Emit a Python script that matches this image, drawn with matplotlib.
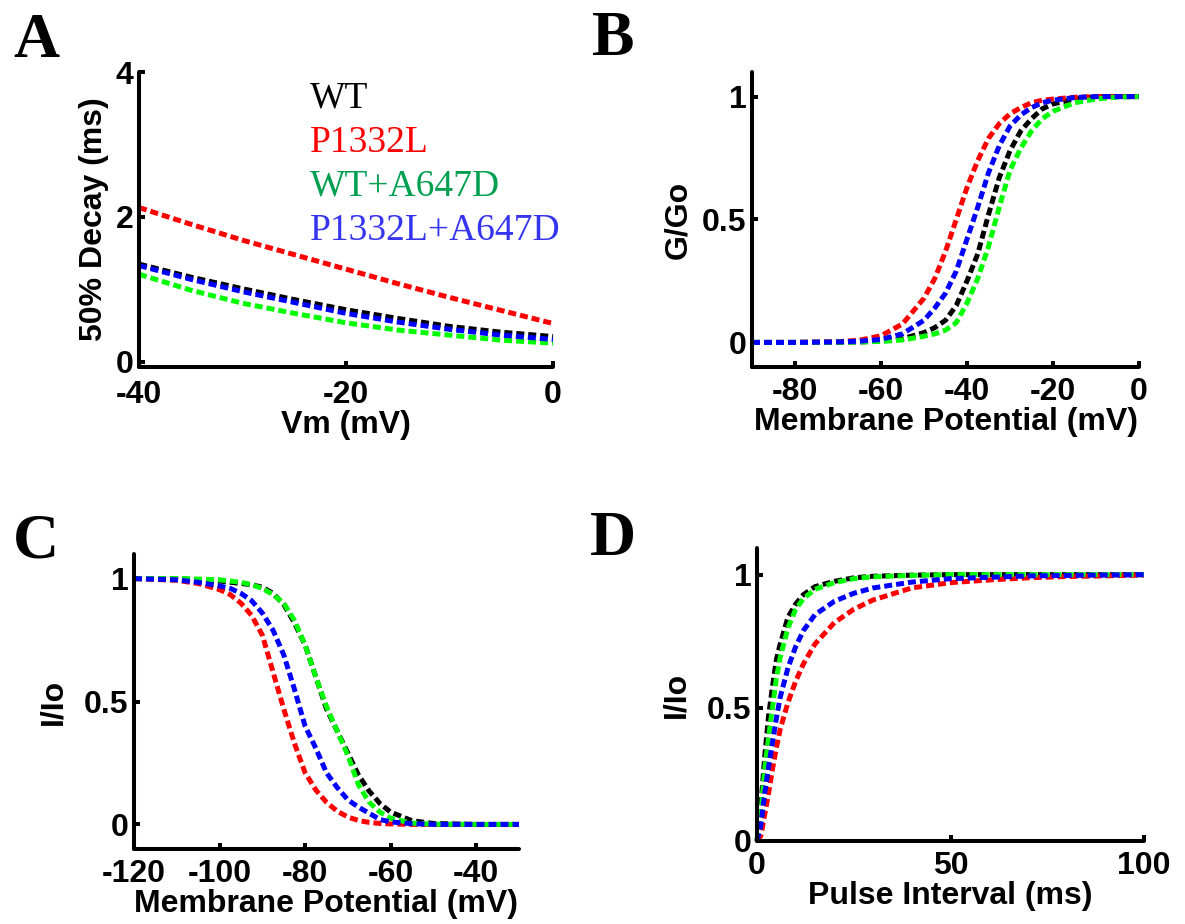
import matplotlib
matplotlib.use("Agg")
import matplotlib.pyplot as plt
from matplotlib.ticker import FixedLocator, FixedFormatter

# ---------------- data ----------------
series_names = ["WT", "P1332L", "WT+A647D", "P1332L+A647D"]
line_colors = ["#000000", "#FF0000", "#00FF00", "#0000FF"]
text_colors = ["#000000", "#FF0000", "#00A050", "#3535F0"]

# Panel A: 50% decay (ms) vs Vm (mV)
a_vm = [-40, -35, -30, -25, -20, -15, -10, -5, 0]
a_wt = [1.35, 1.17, 1.01, 0.86, 0.72, 0.60, 0.49, 0.41, 0.35]
a_p1332l = [2.13, 1.90, 1.68, 1.48, 1.28, 1.08, 0.89, 0.71, 0.53]
a_wt_a647d = [1.21, 0.99, 0.81, 0.67, 0.54, 0.44, 0.37, 0.30, 0.26]
a_p1332l_a647d = [1.33, 1.14, 0.97, 0.82, 0.67, 0.55, 0.45, 0.37, 0.31]

# Panel B: G/Go vs membrane potential (mV)
b_vm = [-90, -80, -70, -65, -60, -55, -50, -47.5, -45, -42.5, -40, -37.5, -35,
        -32.5, -30, -27.5, -25, -22.5, -20, -15, -10, -5, 0]
b_wt = [0, 0, 0.001, 0.002, 0.005, 0.015, 0.04, 0.06, 0.09, 0.15, 0.25, 0.36, 0.52,
        0.67, 0.78, 0.86, 0.91, 0.95, 0.97, 0.99, 0.998, 1.0, 1.0]
b_p1332l = [0, 0, 0.003, 0.009, 0.027, 0.075, 0.18, 0.26, 0.37, 0.50, 0.63, 0.74, 0.83,
            0.89, 0.93, 0.955, 0.975, 0.985, 0.99, 0.997, 1.0, 1.0, 1.0]
b_wt_a647d = [0, 0, 0.001, 0.002, 0.004, 0.01, 0.025, 0.035, 0.05, 0.08, 0.16, 0.26, 0.39,
              0.55, 0.70, 0.79, 0.86, 0.91, 0.94, 0.975, 0.99, 0.998, 1.0]
b_p1332l_a647d = [0, 0, 0.002, 0.005, 0.012, 0.035, 0.09, 0.14, 0.20, 0.29, 0.42, 0.55, 0.69,
                  0.80, 0.88, 0.925, 0.955, 0.975, 0.985, 0.996, 1.0, 1.0, 1.0]

# Panel C: I/Io vs membrane potential (mV)
c_vm = [-120, -110, -105, -100, -97.5, -95, -92.5, -90, -87.5, -85, -82.5, -80, -77.5,
        -75, -72.5, -70, -67.5, -65, -62.5, -60, -55, -50, -40, -30]
c_wt = [1.0, 1.0, 0.995, 0.99, 0.985, 0.98, 0.975, 0.965, 0.94, 0.895, 0.82, 0.73, 0.60,
        0.47, 0.38, 0.29, 0.20, 0.135, 0.085, 0.05, 0.015, 0.004, 0.0, 0.0]
c_p1332l = [1.0, 0.993, 0.98, 0.955, 0.935, 0.90, 0.85, 0.77, 0.62, 0.47, 0.33, 0.21, 0.14,
            0.09, 0.054, 0.03, 0.016, 0.008, 0.004, 0.002, 0.0, 0.0, 0.0, 0.0]
c_wt_a647d = [1.0, 1.0, 0.998, 0.995, 0.99, 0.985, 0.975, 0.96, 0.935, 0.90, 0.83, 0.73, 0.60,
              0.48, 0.38, 0.28, 0.16, 0.09, 0.05, 0.025, 0.005, 0.001, 0.0, 0.0]
c_p1332l_a647d = [1.0, 0.995, 0.985, 0.97, 0.96, 0.94, 0.91, 0.86, 0.79, 0.69, 0.55, 0.40, 0.31,
                  0.21, 0.15, 0.10, 0.07, 0.045, 0.02, 0.01, 0.003, 0.0, 0.0, 0.0]

# Panel D: I/Io vs pulse interval (ms)
d_t = [0, 1, 2, 3, 4, 5, 6, 8, 10, 12, 15, 20, 25, 30, 40, 50, 60, 70, 80, 100]
d_wt = [0, 0.13, 0.32, 0.47, 0.58, 0.68, 0.74, 0.84, 0.89, 0.925, 0.955, 0.975, 0.988,
        0.994, 0.998, 1.0, 1.0, 1.0, 1.0, 1.0]
d_p1332l = [0, 0.02, 0.10, 0.18, 0.27, 0.35, 0.42, 0.52, 0.60, 0.665, 0.74, 0.82, 0.87,
            0.905, 0.95, 0.97, 0.98, 0.988, 0.993, 0.998]
d_wt_a647d = [0, 0.10, 0.27, 0.39, 0.50, 0.61, 0.69, 0.80, 0.87, 0.91, 0.945, 0.97, 0.985,
              0.992, 0.997, 1.0, 1.0, 1.0, 1.0, 1.0]
d_p1332l_a647d = [0, 0.06, 0.18, 0.28, 0.37, 0.46, 0.54, 0.65, 0.73, 0.79, 0.85, 0.90, 0.93,
                  0.95, 0.972, 0.985, 0.99, 0.995, 0.997, 1.0]

# Axis settings
a_xticks = [-40, -20, 0]; a_xticklabels = ["-40", "-20", "0"]
a_yticks = [0, 2, 4]; a_yticklabels = ["0", "2", "4"]
b_xticks = [-80, -60, -40, -20, 0]; b_xticklabels = ["-80", "-60", "-40", "-20", "0"]
c_xticks = [-120, -100, -80, -60, -40]; c_xticklabels = ["-120", "-100", "-80", "-60", "-40"]
d_xticks = [0, 50, 100]; d_xticklabels = ["0", "50", "100"]
norm_yticks = [0, 0.5, 1]; norm_yticklabels = ["0", "0.5", "1"]

# ---------------- figure ----------------
W, H = 1185, 924
fig = plt.figure(figsize=(W / 100, H / 100), dpi=100)

SANS = "Liberation Sans"
SERIF = "Liberation Serif"
FS = 23
LW = 3.6
DASH = (0, (1.6, 0.8))


def box(l, r, t, b):
    return [l / W, 1 - b / H, (r - l) / W, (b - t) / H]


def style(ax, xlim, ylim, xt, xtl, yt, ytl, xlabel, ylabel, ylpad=3, xpad=7):
    ax.set_xlim(*xlim)
    ax.set_ylim(*ylim)
    for s in ["top", "right"]:
        ax.spines[s].set_visible(False)
    for s in ["left", "bottom"]:
        ax.spines[s].set_linewidth(2.9)
        ax.spines[s].set_capstyle("round")
    ax.xaxis.set_major_locator(FixedLocator(xt))
    ax.xaxis.set_major_formatter(FixedFormatter(xtl))
    ax.yaxis.set_major_locator(FixedLocator(yt))
    ax.yaxis.set_major_formatter(FixedFormatter(ytl))
    ax.tick_params(direction="in", length=4, width=2.9)
    ax.tick_params(axis="x", pad=xpad)
    ax.tick_params(axis="y", pad=4)
    for lab in ax.get_xticklabels() + ax.get_yticklabels():
        lab.set_fontfamily(SANS)
        lab.set_fontweight("bold")
        lab.set_fontsize(FS)
    ax.set_xlabel(xlabel, fontfamily=SANS, fontweight="bold", fontsize=FS, labelpad=0)
    ax.set_ylabel(ylabel, fontfamily=SANS, fontweight="bold", fontsize=FS, labelpad=ylpad)


def draw(ax, x, ys):
    for y, c in zip(ys, line_colors):
        ax.plot(x, y, color=c, lw=LW, linestyle=DASH, dash_capstyle="butt", clip_on=False)


# A
axA = fig.add_axes(box(139, 553, 72, 367))
draw(axA, a_vm, [a_wt, a_p1332l, a_wt_a647d, a_p1332l_a647d])
style(axA, (-40, 0), (-0.07, 4), a_xticks, a_xticklabels, a_yticks, a_yticklabels,
      "Vm (mV)", "50% Decay (ms)", ylpad=5, xpad=9.5)
leg_y = [0.881, 0.729, 0.583, 0.431]
for name, col, yy in zip(series_names, text_colors, leg_y):
    axA.text(0.413, yy, name, transform=axA.transAxes, color=col, fontfamily=SERIF,
             fontsize=27, va="baseline", ha="left")

# B
axB = fig.add_axes(box(752, 1139, 72, 367))
draw(axB, b_vm, [b_wt, b_p1332l, b_wt_a647d, b_p1332l_a647d])
style(axB, (-90, 0), (-0.1, 1.1), b_xticks, b_xticklabels, norm_yticks, norm_yticklabels,
      "Membrane Potential (mV)", "G/Go", ylpad=6)

# C
axC = fig.add_axes(box(134, 519, 554, 849))
draw(axC, c_vm, [c_wt, c_p1332l, c_wt_a647d, c_p1332l_a647d])
style(axC, (-120, -30), (-0.1, 1.1), c_xticks, c_xticklabels, norm_yticks, norm_yticklabels,
      "Membrane Potential (mV)", "I/Io", ylpad=11)

# D
axD = fig.add_axes(box(757, 1144, 548, 841))
draw(axD, d_t, [d_wt, d_p1332l, d_wt_a647d, d_p1332l_a647d])
style(axD, (0, 100), (0, 1.1), d_xticks, d_xticklabels, norm_yticks, norm_yticklabels,
      "Pulse Interval (ms)", "I/Io", ylpad=11)

# Panel letters
for letter, (lx, ly) in zip("ABCD", [(13, 57), (592, 55), (13, 557), (590, 555)]):
    fig.text(lx / W, 1 - ly / H, letter, fontfamily=SERIF, fontweight="bold", fontsize=46,
             va="baseline", ha="left")

fig.savefig("out.png", dpi=100, facecolor="white")
